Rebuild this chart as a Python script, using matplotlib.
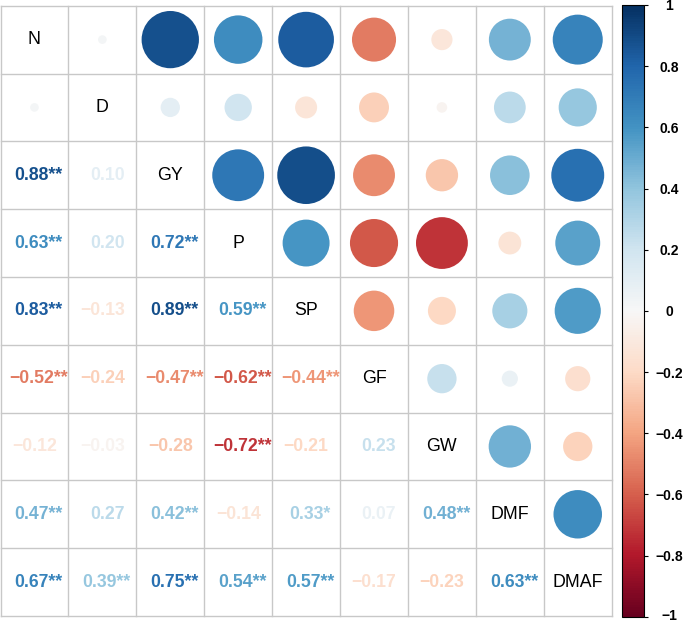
import matplotlib
matplotlib.use("Agg")
import matplotlib.pyplot as plt
import matplotlib.patches as mpatches
import matplotlib.colors as mcolors
import matplotlib.cm as cm
import matplotlib.transforms as mtransforms
import numpy as np

plt.rcParams['font.family'] = ['Liberation Sans', 'DejaVu Sans']

labels = ["N", "D", "GY", "P", "SP", "GF", "GW", "DMF", "DMAF"]

# lower-triangle correlations, row i vs columns 0..i-1
r_N = []
r_D = [0.02]
r_GY = [0.88, 0.10]
r_P = [0.63, 0.20, 0.72]
r_SP = [0.83, -0.13, 0.89, 0.59]
r_GF = [-0.52, -0.24, -0.47, -0.62, -0.44]
r_GW = [-0.12, -0.03, -0.28, -0.72, -0.21, 0.23]
r_DMF = [0.47, 0.27, 0.42, -0.14, 0.33, 0.07, 0.48]
r_DMAF = [0.67, 0.39, 0.75, 0.54, 0.57, -0.17, -0.23, 0.63]

# significance stars, same layout
s_N = []
s_D = [""]
s_GY = ["**", ""]
s_P = ["**", "", "**"]
s_SP = ["**", "", "**", "**"]
s_GF = ["**", "", "**", "**", "**"]
s_GW = ["", "", "", "**", "", ""]
s_DMF = ["**", "", "**", "", "*", "", "**"]
s_DMAF = ["**", "**", "**", "**", "**", "", "", "**"]

# pairs drawn only as circles in both triangles
circle_only = [(1, 0)]

rows_r = [r_N, r_D, r_GY, r_P, r_SP, r_GF, r_GW, r_DMF, r_DMAF]
rows_s = [s_N, s_D, s_GY, s_P, s_SP, s_GF, s_GW, s_DMF, s_DMAF]

n = len(labels)
M = np.eye(n)
S = [["" for _ in range(n)] for _ in range(n)]
for i in range(n):
    for j, v in enumerate(rows_r[i]):
        M[i, j] = v
        M[j, i] = v
        S[i][j] = rows_s[i][j]

W, H = 685, 622
fig = plt.figure(figsize=(W / 100, H / 100), dpi=100)
left, right, top, bottom = 0.5, 611.7, 5.7, 616.0
ax = fig.add_axes([left / W, (H - bottom) / H, (right - left) / W, (bottom - top) / H])
ax.set_xlim(0, n)
ax.set_ylim(n, 0)
ax.axis('off')

cmap = plt.get_cmap('RdBu')
norm = mcolors.Normalize(-1, 1)

grid_c = '#C8C8C8'
for k in range(n + 1):
    ax.plot([k, k], [0, n], color=grid_c, lw=1.0, zorder=1, clip_on=False)
    ax.plot([0, n], [k, k], color=grid_c, lw=1.0, zorder=1, clip_on=False)

for i in range(n):
    for j in range(n):
        cx, cy = j + 0.5, i + 0.5
        if i == j:
            ax.text(cx, cy, labels[i], ha='center', va='center', fontsize=12.8,
                    color='black', zorder=3)
            continue
        v = M[i, j]
        col = cmap(norm(v))
        pair = (max(i, j), min(i, j))
        if j > i or pair in circle_only:
            rad = 0.9 * np.sqrt(abs(v)) / 2
            ax.add_patch(mpatches.Circle((cx, cy), rad, facecolor=col, edgecolor='none', zorder=2))
        else:
            num = f"{abs(v):.2f}"
            txt = ("\u2212" if v < 0 else "") + num + S[i][j]
            off = 0.06 if S[i][j] else (0.07 if v > 0 else 0.0)
            ax.text(cx + off, cy, txt, ha='center', va='center', fontsize=12.7,
                    fontweight='bold', color=col, zorder=3)

# colorbar
cb_l, cb_r, cb_t, cb_b = 621.7, 644.0, 5.0, 616.7
cax = fig.add_axes([cb_l / W, (H - cb_b) / H, (cb_r - cb_l) / W, (cb_b - cb_t) / H])
cb = fig.colorbar(cm.ScalarMappable(norm=norm, cmap=cmap), cax=cax, orientation='vertical')
ticks = [-1, -0.8, -0.6, -0.4, -0.2, 0, 0.2, 0.4, 0.6, 0.8, 1]
tick_labels = ["\u22121", "\u22120.8", "\u22120.6", "\u22120.4", "\u22120.2", "0",
               "0.2", "0.4", "0.6", "0.8", "1"]
cb.set_ticks(ticks)
cb.set_ticklabels(tick_labels)
cax.tick_params(labelsize=10, length=3, width=0.8, pad=15, colors='black')
for lab in cax.get_yticklabels():
    lab.set_horizontalalignment('center')
    lab.set_fontweight('bold')
ylabs = cax.get_yticklabels()
ylabs[0].set_transform(ylabs[0].get_transform() +
                       mtransforms.ScaledTranslation(0, 2 / 100, fig.dpi_scale_trans))
cb.outline.set_linewidth(0.8)
cb.outline.set_edgecolor('black')

fig.savefig("out.png", dpi=100)
